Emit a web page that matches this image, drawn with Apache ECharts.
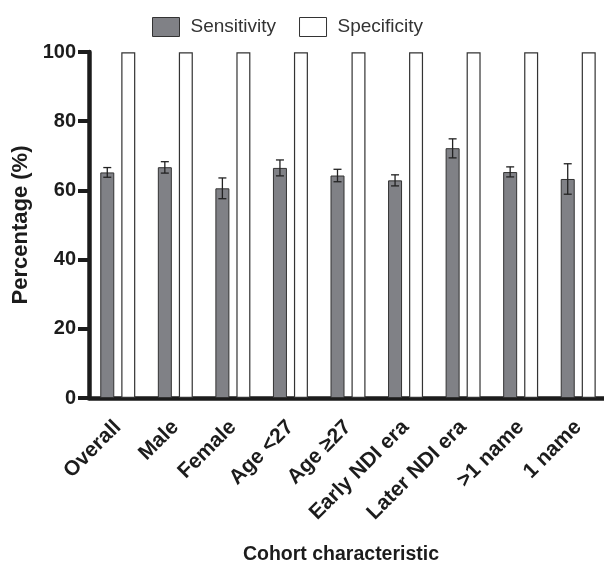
<!DOCTYPE html>
<html>
<head>
<meta charset="utf-8">
<script src="https://cdn.jsdelivr.net/npm/echarts@6/dist/echarts.min.js"></script>
<style>
    html, body { margin: 0; padding: 0; background: #fff; }
    #chart { width: 604px; height: 563px; }
</style>
</head>
<body>
<div id="chart"></div>
<script>
/* ========== 数据 ========== */
const categories = ["Overall", "Male", "Female", "Age <27", "Age ≥27", "Early NDI era", "Later NDI era", ">1 name", "1 name"];
const sensitivity = [65.2, 66.7, 60.6, 66.5, 64.3, 62.9, 72.2, 65.3, 63.3];
const sensLow = [63.8, 65.0, 57.6, 64.2, 62.5, 61.3, 69.4, 63.9, 58.9];
const sensHigh = [66.6, 68.3, 63.6, 68.8, 66.1, 64.5, 74.9, 66.8, 67.7];
const specificity = [99.9, 99.9, 99.9, 99.9, 99.9, 99.9, 99.9, 99.9, 99.9];
const yTicks = { min: 0, max: 100, interval: 20 };

const FONT = "Liberation Sans";
const INK = "#1c1c1c";
const GRAY = "#808186";
const BAR_W = 14;
const BAR_GAP = 7;

const chart = echarts.init(document.getElementById("chart"));

// 误差线数据：[类别索引, 下限, 上限]
const errData = categories.map((c, i) => [i, sensLow[i], sensHigh[i]]);

chart.setOption({
    animation: false,
    legend: {
        left: 152, top: 17, padding: 0,
        itemWidth: 27, itemHeight: 19, itemGap: 23,
        textStyle: { fontFamily: FONT, fontSize: 19, color: "#333", padding: [0, 0, 0, 6] },
        data: [
            { name: "Sensitivity", icon: "rect", itemStyle: { color: GRAY, borderColor: "#333", borderWidth: 1 } },
            { name: "Specificity", icon: "rect", itemStyle: { color: "#fff", borderColor: "#333", borderWidth: 1 } },
        ],
    },
    grid: { left: 89, right: -3, top: 52, bottom: 165, outerBoundsMode: "none" },
    xAxis: {
        type: "category",
        data: categories,
        name: "Cohort characteristic",
        nameLocation: "middle",
        nameGap: 147,
        nameTextStyle: { fontFamily: FONT, fontSize: 19.5, fontWeight: "bold", color: INK, padding: [0, 14, 0, 0] },
        axisLine: { lineStyle: { color: INK, width: 4.5 } },
        axisTick: { alignWithLabel: true, length: 10, lineStyle: { color: INK, width: 4 } },
        axisLabel: { rotate: 45, margin: 26, fontFamily: FONT, fontSize: 21, fontWeight: "bold", color: INK },
        splitLine: { show: false },
    },
    yAxis: {
        type: "value",
        min: yTicks.min, max: yTicks.max, interval: yTicks.interval,
        name: "Percentage (%)",
        nameLocation: "middle",
        nameGap: 56,
        nameRotate: 90,
        nameTextStyle: { fontFamily: FONT, fontSize: 22, fontWeight: "bold", color: INK },
        axisLine: { show: true, lineStyle: { color: INK, width: 4.5 } },
        axisTick: { show: true, length: 11, lineStyle: { color: INK, width: 4 } },
        axisLabel: { margin: 13, fontFamily: FONT, fontSize: 20, fontWeight: "bold", color: INK },
        splitLine: { show: false },
    },
    series: [
        {
            name: "Sensitivity",
            type: "bar",
            barWidth: BAR_W,
            barGap: (BAR_GAP / BAR_W * 100) + "%",
            data: sensitivity,
            itemStyle: { color: GRAY, borderColor: "#333", borderWidth: 1 },
        },
        {
            name: "Specificity",
            type: "bar",
            barWidth: BAR_W,
            data: specificity,
            itemStyle: { color: "#fff", borderColor: "#333", borderWidth: 1.2 },
        },
        {
            name: "err",
            type: "custom",
            data: errData,
            z: 10,
            renderItem: (params, api) => {
                const off = -(BAR_W + BAR_GAP) / 2;
                const lo = api.coord([api.value(0), api.value(1)]);
                const hi = api.coord([api.value(0), api.value(2)]);
                const x = lo[0] + off;
                const cap = 4;
                const style = { stroke: "#222", lineWidth: 1.3 };
                return {
                    type: "group",
                    children: [
                        { type: "line", shape: { x1: x, y1: lo[1], x2: x, y2: hi[1] }, style },
                        { type: "line", shape: { x1: x - cap, y1: lo[1], x2: x + cap, y2: lo[1] }, style },
                        { type: "line", shape: { x1: x - cap, y1: hi[1], x2: x + cap, y2: hi[1] }, style },
                    ],
                };
            },
        },
    ],
});
</script>
</body>
</html>
